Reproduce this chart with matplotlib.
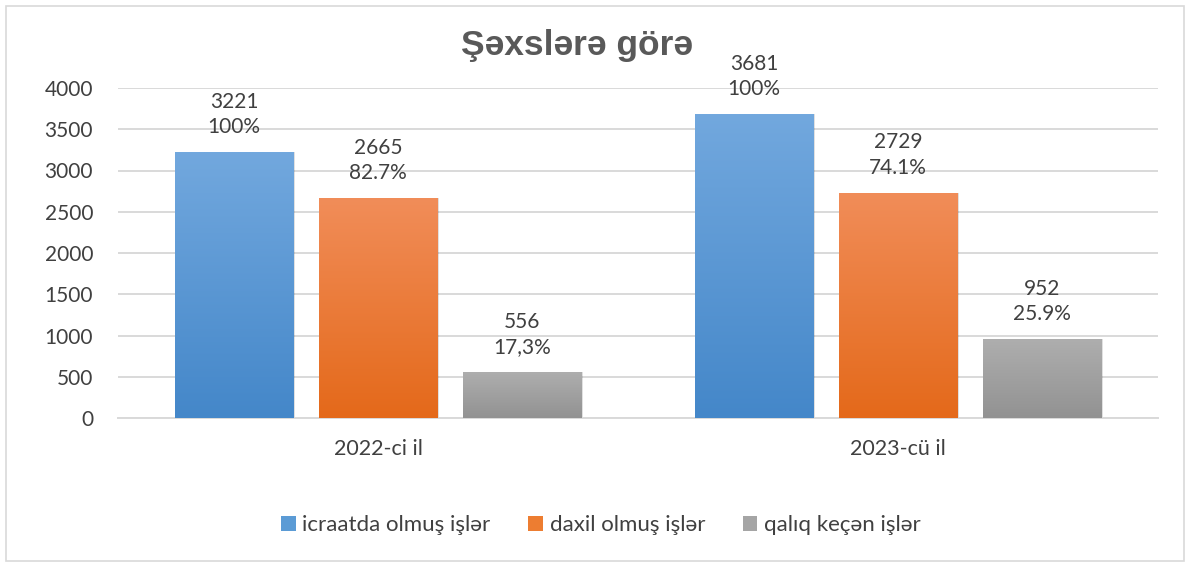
import matplotlib
matplotlib.use("Agg")
import matplotlib.pyplot as plt
import numpy as np
from matplotlib.colors import LinearSegmentedColormap
from matplotlib.patches import Rectangle

categories = ["2022-ci il", "2023-cü il"]
series_names = ["icraatda olmuş işlər", "daxil olmuş işlər", "qalıq keçən işlər"]
icraatda = [3221, 3681]
daxil = [2665, 2729]
qaliq = [556, 952]
pct_icraatda = ["100%", "100%"]
pct_daxil = ["82.7%", "74.1%"]
pct_qaliq = ["17,3%", "25.9%"]
title = "Şəxslərə görə"
yticks = [0, 500, 1000, 1500, 2000, 2500, 3000, 3500, 4000]

series = [icraatda, daxil, qaliq]
pcts = [pct_icraatda, pct_daxil, pct_qaliq]
grad = [("#4487c9", "#72a8de"), ("#e4691a", "#f18d59"), ("#929292", "#aeaeae")]
solid = ["#5b9bd5", "#ed7d31", "#a5a5a5"]

plt.rcParams['font.family'] = ['Lato', 'DejaVu Sans']
text_color = "#404040"

fig = plt.figure(figsize=(11.93, 5.64), dpi=100)
ax = fig.add_axes([118/1193, 1-418/564, 1040/1193, 330/564])

x = np.arange(len(categories))
width = 0.227
offset = 0.277
grad_img = np.linspace(0, 1, 256).reshape(-1, 1)

handles = []
for i, (vals, pl) in enumerate(zip(series, pcts)):
    xs = x + (i - 1) * offset
    bars = ax.bar(xs, vals, width, color=solid[i], zorder=3, label=series_names[i])
    handles.append(bars)
    cmap = LinearSegmentedColormap.from_list("g%d" % i, list(grad[i]))
    for b, v, p in zip(bars, vals, pl):
        bx, by = b.get_x(), b.get_y()
        bw, bh = b.get_width(), b.get_height()
        sh = Rectangle((bx + 0.004, by), bw, bh, facecolor="#000000", alpha=0.12,
                       edgecolor="none", zorder=2.5)
        ax.add_patch(sh)
        im = ax.imshow(grad_img, cmap=cmap, aspect="auto", origin="lower",
                       extent=[bx, bx + bw, by, by + bh], zorder=3.5)
        im.set_clip_path(b)
        ax.annotate(f"{v}\n{p}", (b.get_x() + bw / 2, v), xytext=(0, 11),
                    textcoords="offset points", ha="center", va="bottom",
                    fontsize=15, color=text_color, linespacing=1.32, zorder=5)

ax.set_xlim(-0.5, 1.5)
ax.set_ylim(0, 4000)
ax.set_yticks(yticks)
ax.set_xticks(x)
ax.set_xticklabels(categories)
ax.tick_params(axis="both", length=0, labelsize=15, colors=text_color)
ax.tick_params(axis="x", labelsize=15.5)
ax.tick_params(axis="y", pad=18)
ax.tick_params(axis="x", pad=15)
ax.grid(axis="y", color="#d9d9d9", linewidth=1.4, zorder=0)
ax.set_axisbelow(True)
for s in ["top", "right", "left"]:
    ax.spines[s].set_visible(False)
ax.spines["bottom"].set_color("#d9d9d9")
ax.spines["bottom"].set_linewidth(1.4)

fig.text(577/1193, 1-45/564, title, ha="center", va="center", fontsize=25.5,
         fontweight="bold", color="#595959", family=["Liberation Sans", "DejaVu Sans"])

leg = fig.legend(handles, series_names, loc="center", bbox_to_anchor=(601/1193, 1-525/564),
                 ncol=3, frameon=False, fontsize=16, handlelength=0.65, handleheight=0.65,
                 handletextpad=0.3, columnspacing=1.7, labelcolor=text_color)

border = Rectangle((6/1193, 3/564), 1178/1193, 555/564, transform=fig.transFigure,
                   fill=False, edgecolor="#d9d9d9", linewidth=1.2)
fig.patches.append(border)

fig.savefig("out.png", dpi=100)
